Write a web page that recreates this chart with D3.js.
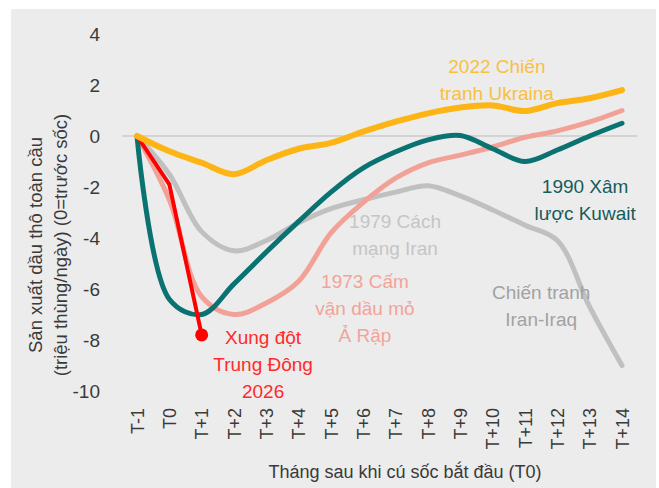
<!DOCTYPE html>
<html>
<head>
<meta charset="utf-8">
<script src="https://cdn.jsdelivr.net/npm/d3@7"></script>
<style>
  body { margin: 0; background: #fff; }
  svg text { font-family: "Liberation Sans", Arial, sans-serif; }
</style>
</head>
<body>
<svg id="chart" width="659" height="488"></svg>
<script>
// data (million barrels/day vs pre-shock)
const months = ["T-1","T0","T+1","T+2","T+3","T+4","T+5","T+6","T+7","T+8","T+9","T+10","T+11","T+12","T+13","T+14"];
const yTicks = [-10,-8,-6,-4,-2,0,2,4];

const iran1979 = [0,-1.5,-3.75,-4.5,-4.1,-3.4,-2.85,-2.5,-2.2,-1.95,-2.35,-2.9,-3.5,-4.1,-6.7,-9.0];
const embargo1973 = [0,-2.5,-6.3,-7.0,-6.55,-5.7,-3.8,-2.6,-1.65,-1.05,-0.75,-0.43,-0.05,0.2,0.55,1.0];
const kuwait1990 = [0,-6.4,-7.0,-5.8,-4.55,-3.35,-2.2,-1.25,-0.62,-0.15,0.02,-0.5,-1.0,-0.55,0.0,0.5];
const mideast2026 = [0,-1.9,-7.8];
const ukraine2022 = [0,-0.6,-1.05,-1.5,-0.95,-0.5,-0.27,0.17,0.56,0.89,1.12,1.2,0.98,1.29,1.48,1.8];

const svg = d3.select("#chart");

// grey panel
svg.append("rect").attr("x", 11).attr("y", 9).attr("width", 645).attr("height", 479).attr("fill", "#ececec");

const x = d3.scalePoint().domain(months).range([137, 622]);
const y = d3.scaleLinear().domain([-10, 4]).range([391, 34]);
const xAt = function(i) { return x(months[0]) + i * x.step(); };

// zero line
svg.append("line")
  .attr("x1", 122).attr("x2", 637)
  .attr("y1", y(0)).attr("y2", y(0))
  .attr("stroke", "#d3d3d3").attr("stroke-width", 2);

// axes
const yAxis = svg.append("g")
  .attr("transform", "translate(108,0)")
  .call(d3.axisLeft(y).tickValues(yTicks).tickSize(0).tickPadding(8).tickFormat(function(d) { return String(d); }));
yAxis.select(".domain").remove();
yAxis.selectAll("text").attr("font-size", 19).attr("fill", "#3a3a3a")
  .attr("font-family", "Liberation Sans, Arial, sans-serif");

const xAxis = svg.append("g")
  .attr("transform", "translate(0,402)")
  .call(d3.axisBottom(x).tickSize(0).tickPadding(0));
xAxis.select(".domain").remove();
xAxis.selectAll("text")
  .attr("font-size", 18).attr("fill", "#3a3a3a")
  .attr("font-family", "Liberation Sans, Arial, sans-serif")
  .attr("text-anchor", "end")
  .attr("transform", "rotate(-90)")
  .attr("x", -6).attr("y", 0).attr("dy", "0.35em");

// axis titles
svg.append("text")
  .attr("x", 405).attr("y", 478)
  .attr("text-anchor", "middle").attr("font-size", 18).attr("fill", "#3a3a3a")
  .text("Tháng sau khi cú sốc bắt đầu (T0)");

const yTitle = svg.append("text")
  .attr("transform", "translate(42,245) rotate(-90)")
  .attr("text-anchor", "middle").attr("font-size", 18.5).attr("fill", "#3a3a3a");
yTitle.append("tspan").attr("x", 0).attr("y", 0).text("Sản xuất dầu thô toàn cầu");
yTitle.append("tspan").attr("x", 0).attr("y", 25).text("(triệu thùng/ngày) (0=trước sốc)");

// lines
const smooth = d3.line()
  .x(function(d, i) { return x(months[i]); })
  .y(function(d) { return y(d); })
  .curve(d3.curveCatmullRom.alpha(0.5));
const straight = d3.line()
  .x(function(d, i) { return x(months[i]); })
  .y(function(d) { return y(d); });

const lines = [
  {values: iran1979, color: "#c0c0c0", width: 5, gen: smooth},
  {values: embargo1973, color: "#f2a197", width: 5, gen: smooth},
  {values: kuwait1990, color: "#0b7272", width: 5, gen: smooth},
  {values: mideast2026, color: "#ff0000", width: 4, gen: straight},
  {values: ukraine2022, color: "#fdb515", width: 6, gen: smooth}
];

svg.selectAll(".series")
  .data(lines)
  .enter().append("path")
    .attr("class", "series")
    .attr("d", function(d) { return d.gen(d.values); })
    .attr("fill", "none")
    .attr("stroke", function(d) { return d.color; })
    .attr("stroke-width", function(d) { return d.width; })
    .attr("stroke-linecap", "round")
    .attr("stroke-linejoin", "round");

// end dot of 2026
svg.append("circle")
  .attr("cx", x(months[mideast2026.length - 1]))
  .attr("cy", y(mideast2026[mideast2026.length - 1]))
  .attr("r", 6.5).attr("fill", "#ff0000");

// annotations: [x index, y value of first line, colour, lines]
const notes = [
  {i: 11.13, v: 2.75, color: "#f8c040", lines: ["2022 Chiến", "tranh Ukraina"]},
  {i: 13.86, v: -1.95, color: "#165c5c", lines: ["1990 Xâm", "lược Kuwait"]},
  {i: 7.98, v: -3.35, color: "#c5c5c5", lines: ["1979 Cách", "mạng Iran"]},
  {i: 7.05, v: -5.7, color: "#f3a398", lines: ["1973 Cấm", "vận dầu mỏ", "Ả Rập"]},
  {i: 12.5, v: -6.1, color: "#a2a2a2", lines: ["Chiến tranh", "Iran-Iraq"]},
  {i: 3.9, v: -7.9, color: "#ff2a2a", lines: ["Xung đột", "Trung Đông", "2026"]}
];

notes.forEach(function(n) {
  const t = svg.append("text")
    .attr("text-anchor", "middle")
    .attr("font-size", 19)
    .attr("fill", n.color);
  n.lines.forEach(function(s, k) {
    t.append("tspan")
      .attr("x", xAt(n.i))
      .attr("y", y(n.v) + 7 + k * 27)
      .text(s);
  });
});
</script>
</body>
</html>
